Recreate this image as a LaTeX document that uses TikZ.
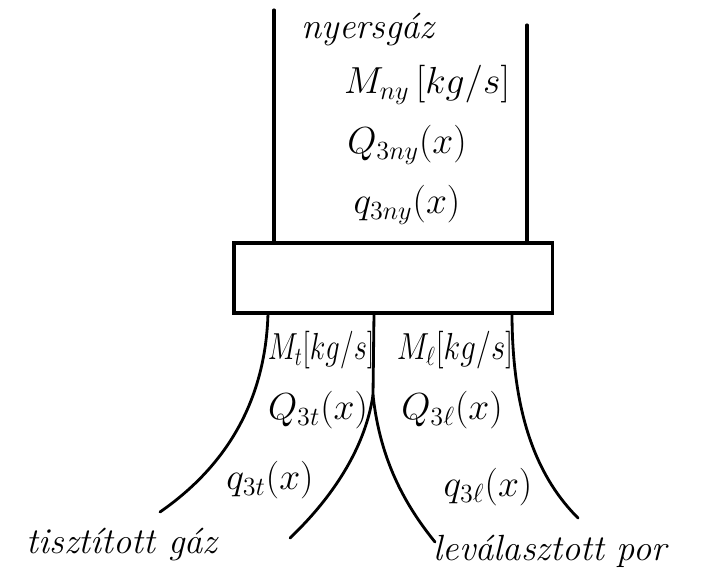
\documentclass[tikz,border=0pt]{standalone}
\usepackage{amsmath}
\usetikzlibrary{positioning}

\begin{document}
\begin{tikzpicture}[
    x=0.025cm, y=-0.025cm,
    wall/.style={line width=2.2pt, line cap=round},
    curve/.style={line width=2pt, line cap=round},
    sep/.style={draw, line width=2.2pt, minimum width=7.95cm, minimum height=1.75cm, inner sep=0pt},
    lbl/.style={font=\LARGE, scale=1.55},
    txt/.style={font=\LARGE\itshape, scale=1.5}
]
    \useasboundingbox (0,0) rectangle (720,580);

    % separator body
    \node[sep] (box) at (393,278) {};

    % raw gas duct
    \coordinate (dl) at (274,10);
    \coordinate (dr) at (527,25);
    \draw[wall] (dl) -- (dl |- box.north);
    \draw[wall] (dr) -- (dr |- box.north);

    \node[txt] (nyers) at (368,30) {nyersgáz};
    \node[lbl] (mny) at (427,85) {$M_{ny}\,[kg/s]$};
    \node[lbl] (Qny) at (407,145) {$Q_{3ny}(x)$};
    \node[lbl] (qny) at (407,205) {$q_{3ny}(x)$};

    % outlets
    \coordinate (lo) at (268,313);
    \coordinate (mid) at (374,313);
    \coordinate (fork) at (373,395);
    \coordinate (ro) at (512,313);
    \draw[curve] (lo) .. controls (266,390) and (235,460) .. (160,512);
    \draw[curve] (mid) -- (fork);
    \draw[curve] (fork) .. controls (365,450) and (330,500) .. (290,538);
    \draw[curve] (fork) .. controls (380,460) and (405,505) .. (435,542);
    \draw[curve] (ro) .. controls (512,420) and (540,480) .. (578,518);

    % clean gas side
    \node[lbl, xscale=0.76, inner sep=0pt] (mt) at (321,350) {$M_t[kg/s]$};
    \node[lbl] (Qt) at (318,410) {$Q_{3t}(x)$};
    \node[lbl] (qt) at (270,480) {$q_{3t}(x)$};
    \node[txt] (tiszt) at (122,545) {tisztított gáz};

    % separated dust side
    \node[lbl, xscale=0.82, inner sep=0pt] (ml) at (455,350) {$M_\ell[kg/s]$};
    \node[lbl] (Ql) at (452,410) {$Q_{3\ell}(x)$};
    \node[lbl] (ql) at (488,487) {$q_{3\ell}(x)$};
    \node[txt] (lev) at (550,551) {leválasztott por};
\end{tikzpicture}
\end{document}
